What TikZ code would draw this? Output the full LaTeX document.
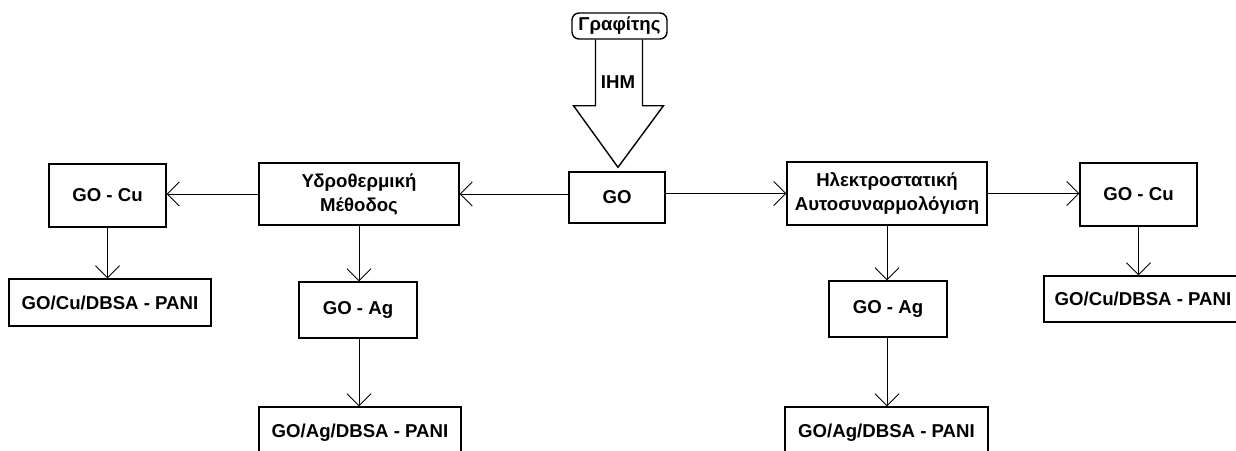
\documentclass[tikz,border=0pt]{standalone}
\usepackage{fontspec}
\setmainfont{Liberation Sans}
\usepackage{tikz}
\usetikzlibrary{arrows.meta, calc}

\begin{document}
\begin{tikzpicture}[x=0.02cm, y=-0.02cm,
        box/.style={draw, line width=0.8pt, align=center, inner sep=0pt,
                    font=\fontsize{10.6}{13.7}\selectfont\bfseries},
        arr/.style={-{Straight Barb[length=0.24cm, width=0.48cm]}, line width=0.5pt}]
        % Area del disegno
        \useasboundingbox (0,0) rectangle (1236,450);
        \clip (0,0) rectangle (1236,450);

        % Nodo di partenza
        \node[box, rounded corners=4pt, minimum width=1.9cm, minimum height=0.52cm] (graf) at (619.5,26) {Γραφίτης};
        \node[box, minimum width=1.92cm, minimum height=1.02cm] (go) at (617,197.5) {GO};

        % Freccia larga
        \draw[line width=0.8pt] ($(graf.south)+(-24,0)$) -- ++(0,66) -- ++(-22,0)
            -- ($(go.north)+(1,-4)$) -- ($(graf.south)+(44,66)$) -- ++(-21,0) -- ($(graf.south)+(23,0)$);
        \node[font=\fontsize{10.6}{12}\selectfont\bfseries] (ihm) at (618,82) {IHM};

        % Metodi
        \node[box, minimum width=4cm, minimum height=1.24cm] (ydro) at (359,194) {Υδροθερμική\\Μέθοδος};
        \node[box, minimum width=4cm, minimum height=1.26cm] (ilek) at (887,193.5) {Ηλεκτροστατική\\Αυτοσυναρμολόγιση};

        % Ramo sinistro
        \node[box, minimum width=2.34cm, minimum height=1.26cm] (cuL) at (107.5,195.5) {GO - Cu};
        \node[box, minimum width=4.04cm, minimum height=0.94cm] (paniCuL) at (110,302.5) {GO/Cu/DBSA - PANI};
        \node[box, minimum width=2.36cm, minimum height=1.12cm] (agL) at (358,310) {GO - Ag};
        \node[box, minimum width=4.04cm, minimum height=1.04cm] (paniAgL) at (360,433) {GO/Ag/DBSA - PANI};

        % Ramo destro
        \node[box, minimum width=2.34cm, minimum height=1.26cm] (cuR) at (1138.5,194.5) {GO - Cu};
        \node[box, minimum width=3.96cm, minimum height=0.92cm] (paniCuR) at (1143,299) {GO/Cu/DBSA - PANI};
        \node[box, minimum width=2.36cm, minimum height=1.12cm] (agR) at (888,309) {GO - Ag};
        \node[box, minimum width=4.06cm, minimum height=1.04cm] (paniAgR) at (886.5,433) {GO/Ag/DBSA - PANI};

        % Collegamenti orizzontali
        \draw[arr] (go.west |- ydro) -- (ydro.east);
        \draw[arr] (ydro.west) -- (cuL.east |- ydro.west);
        \draw[arr] (go.east |- ilek) -- (ilek.west);
        \draw[arr] (ilek.east) -- (cuR.west |- ilek.east);

        % Collegamenti verticali
        \draw[arr] (cuL.south) -- (cuL.south |- paniCuL.north);
        \draw[arr] (ydro.south) -- (ydro.south |- agL.north);
        \draw[arr] (ydro.south |- agL.south) -- (ydro.south |- paniAgL.north);
        \draw[arr] (ilek.south) -- (ilek.south |- agR.north);
        \draw[arr] (ilek.south |- agR.south) -- (ilek.south |- paniAgR.north);
        \draw[arr] (cuR.south) -- (cuR.south |- paniCuR.north);
\end{tikzpicture}
\end{document}
